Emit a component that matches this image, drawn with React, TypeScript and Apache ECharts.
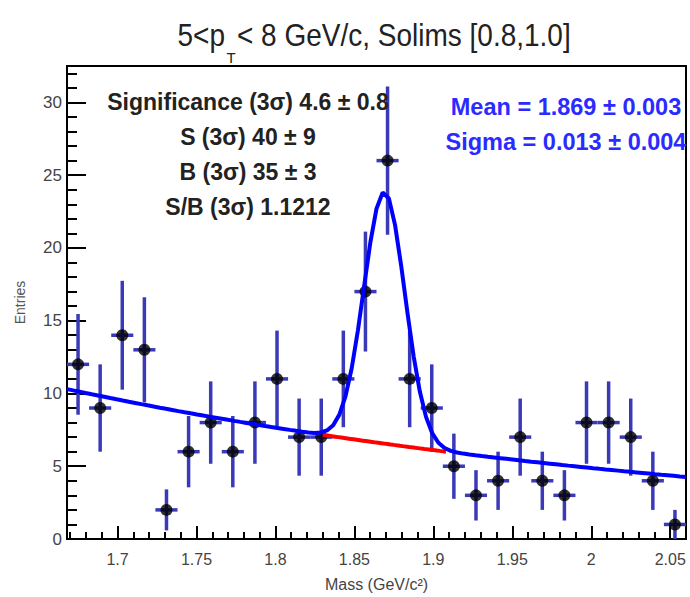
import React, { useEffect, useRef } from "react";
import * as echarts from "echarts";

// ---- data ----
const binCenters = [
  1.675, 1.689, 1.703, 1.717, 1.731, 1.745, 1.759, 1.773, 1.787, 1.801,
  1.815, 1.829, 1.843, 1.857, 1.871, 1.885, 1.899, 1.913, 1.927, 1.941,
  1.955, 1.969, 1.983, 1.997, 2.011, 2.025, 2.039, 2.053,
];
const counts = [
  12, 9, 14, 13, 2, 6, 8, 6, 8, 11, 7, 7, 11, 17, 26, 11, 9, 5, 3, 4, 7, 4, 3,
  8, 8, 7, 4, 1,
];
const countErrors = [
  3.46, 3.0, 3.74, 3.61, 1.41, 2.45, 2.83, 2.45, 2.83, 3.32, 2.65, 2.65, 3.32,
  4.12, 5.1, 3.32, 3.0, 2.24, 1.73, 2.0, 2.65, 2.0, 1.73, 2.83, 2.83, 2.65,
  2.0, 1.0,
];
const binHalfWidth = 0.007;

const xTicks = [1.7, 1.75, 1.8, 1.85, 1.9, 1.95, 2, 2.05];
const yTicks = [0, 5, 10, 15, 20, 25, 30];
const xRange = [1.668, 2.06];
const yRange = [0, 32.5];

// fit parameters (gaussian + exponential background)
const fitMean = 1.869;
const fitSigma = 0.013;
const fitAmplitude = 17.3;
const bgNorm = 10.3;
const bgSlope = 2.25;
const fitSamples = 100;

const statLines = [
  "Significance (3σ) 4.6 ± 0.8",
  "S (3σ) 40 ± 9",
  "B (3σ) 35 ± 3",
  "S/B (3σ) 1.1212",
];
const fitLines = ["Mean = 1.869 ± 0.003", "Sigma = 0.013 ± 0.004"];

const SANS = '"Liberation Sans", Arial, sans-serif';

function background(m: number) {
  return bgNorm * Math.exp(-bgSlope * (m - xRange[0]));
}
function total(m: number) {
  const z = (m - fitMean) / fitSigma;
  return background(m) + fitAmplitude * Math.exp(-0.5 * z * z);
}

export default function App() {
  const ref = useRef<HTMLDivElement>(null);
  useEffect(() => {
    if (!ref.current) return;
    const chart = echarts.init(ref.current, undefined, { renderer: "svg" });

    const fitData: number[][] = [];
    for (let i = 0; i <= fitSamples; i++) {
      const m = xRange[0] + ((xRange[1] - xRange[0]) * i) / fitSamples;
      fitData.push([m, total(m)]);
    }
    const bgData: number[][] = [];
    const lo = fitMean - 3 * fitSigma;
    const hi = fitMean + 3 * fitSigma;
    for (let i = 0; i <= 40; i++) {
      const m = lo + ((hi - lo) * i) / 40;
      bgData.push([m, background(m)]);
    }
    const pts = binCenters.map((x, i) => [x, counts[i], countErrors[i]]);
    const errColor = "#3a3ab8";

    const graphics: any[] = [
      {
        type: "group",
        x: 0,
        y: 35,
        scaleY: 1.12,
        children: [
          {
            type: "text",
            style: { text: "5<p", x: 225, y: 0, align: "right", verticalAlign: "middle", fontSize: 28, fontFamily: SANS, fill: "#222" },
          },
          {
            type: "text",
            style: { text: "< 8 GeV/c, Solims [0.8,1.0]", x: 237, y: 0, align: "left", verticalAlign: "middle", fontSize: 28, fontFamily: SANS, fill: "#222" },
          },
        ],
      },
      {
        type: "text",
        style: { text: "T", x: 231, y: 57, align: "center", verticalAlign: "middle", fontSize: 15, fontFamily: SANS, fill: "#222" },
      },
    ];
    statLines.forEach((t, i) => {
      graphics.push({
        type: "text",
        z: 100,
        style: { text: t, x: 248, y: 102 + i * 35, align: "center", verticalAlign: "middle", fontSize: 23, fontWeight: "bold", fontFamily: SANS, fill: "#222" },
      });
    });
    fitLines.forEach((t, i) => {
      graphics.push({
        type: "text",
        z: 100,
        style: { text: t, x: 566, y: 107 + i * 35, align: "center", verticalAlign: "middle", fontSize: 23.5, fontWeight: "bold", fontFamily: SANS, fill: "#2b2bff" },
      });
    });

    chart.setOption({
      animation: false,
      grid: { left: 67, right: 4, top: 66, bottom: 45, show: true, borderColor: "#000", borderWidth: 2, containLabel: false },
      xAxis: {
        type: "value",
        min: xRange[0],
        max: xRange[1],
        splitNumber: 8,
        name: "Mass (GeV/c²)",
        nameLocation: "middle",
        nameGap: 37,
        nameTextStyle: { fontSize: 16, fontFamily: SANS, color: "#444" },
        axisLine: { lineStyle: { color: "#000", width: 2 } },
        axisTick: { inside: true, length: 13, customValues: xTicks, lineStyle: { color: "#000", width: 2 } },
        minorTick: { show: true, splitNumber: 5, length: 7, lineStyle: { color: "#000", width: 2 } },
        axisLabel: { customValues: xTicks, fontSize: 16, fontFamily: SANS, color: "#444", margin: 12 },
        splitLine: { show: false },
      },
      yAxis: {
        type: "value",
        min: yRange[0],
        max: yRange[1],
        interval: 5,
        name: "Entries",
        nameLocation: "middle",
        nameGap: 40,
        nameRotate: 90,
        nameTextStyle: { fontSize: 14, fontFamily: SANS, color: "#555" },
        axisLine: { lineStyle: { color: "#000", width: 2 } },
        axisTick: { inside: true, length: 19, customValues: yTicks, lineStyle: { color: "#000", width: 2 } },
        minorTick: { show: true, splitNumber: 5, length: 10, lineStyle: { color: "#000", width: 2 } },
        axisLabel: { customValues: yTicks, fontSize: 17, fontFamily: SANS, color: "#444", margin: 5 },
        splitLine: { show: false },
      },
      graphic: graphics,
      series: [
        {
          type: "custom",
          z: 2,
          data: pts,
          encode: { x: 0, y: 1 },
          renderItem: (_p: any, api: any) => {
            const x = api.value(0);
            const y = api.value(1);
            const e = api.value(2);
            const top = api.coord([x, y + e]);
            const bot = api.coord([x, Math.max(0, y - e)]);
            const l = api.coord([x - binHalfWidth, y]);
            const r = api.coord([x + binHalfWidth, y]);
            return {
              type: "group",
              children: [
                { type: "line", shape: { x1: top[0], y1: top[1], x2: bot[0], y2: bot[1] }, style: { stroke: errColor, lineWidth: 3.5 } },
                { type: "line", shape: { x1: l[0], y1: l[1], x2: r[0], y2: r[1] }, style: { stroke: errColor, lineWidth: 3.5 } },
              ],
            };
          },
        },
        {
          type: "scatter",
          z: 3,
          data: pts.map((p) => [p[0], p[1]]),
          symbol: "circle",
          symbolSize: 12,
          itemStyle: { color: "#000" },
        },
        {
          type: "line",
          z: 4,
          data: bgData,
          showSymbol: false,
          lineStyle: { color: "#ff0000", width: 4 },
        },
        {
          type: "line",
          z: 5,
          data: fitData,
          showSymbol: false,
          lineStyle: { color: "#0000ff", width: 4 },
        },
      ],
    });
    return () => chart.dispose();
  }, []);
  return <div ref={ref} style={{ position: "absolute", left: 0, top: 0, width: 690, height: 597, background: "#fff" }} />;
}
